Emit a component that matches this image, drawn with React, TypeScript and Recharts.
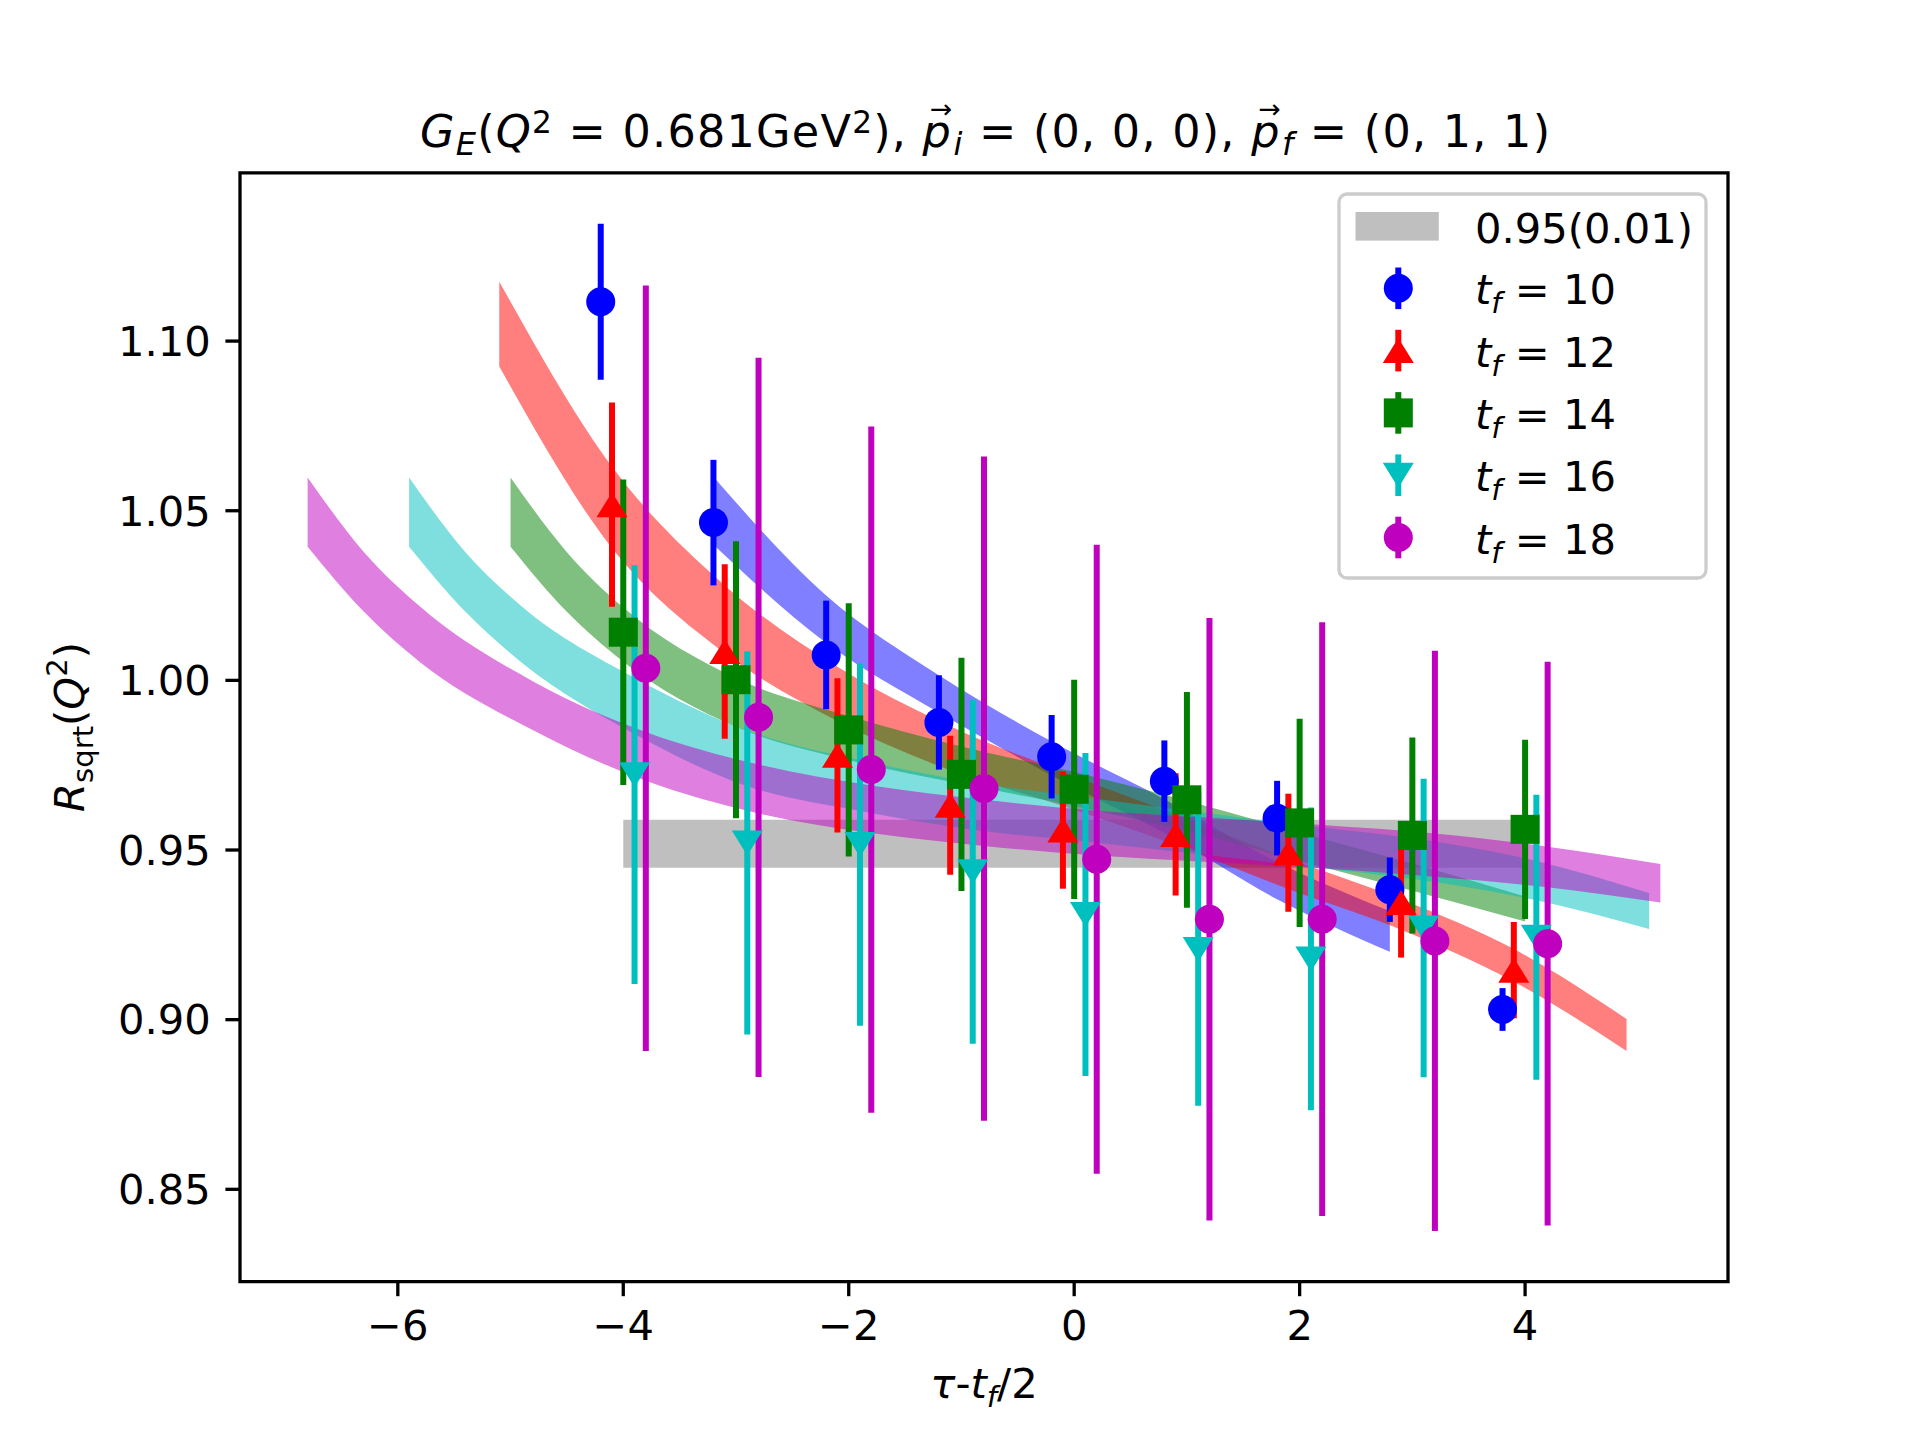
import React from 'react';
import { ComposedChart, XAxis, YAxis, Scatter, Area, ErrorBar, ReferenceArea } from 'recharts';

// ---- data points (x = tau - tf/2, with small horizontal offsets per series) ----
const tf10X = [-4.2, -3.2, -2.2, -1.2, -0.2, 0.8, 1.8, 2.8, 3.8];
const tf10Y = [1.1116, 1.0465, 1.0075, 0.9876, 0.9775, 0.9703, 0.9594, 0.9383, 0.903];
const tf10Err = [0.023, 0.0185, 0.016, 0.0139, 0.0123, 0.012, 0.011, 0.0095, 0.0063];

const tf12X = [-4.1, -3.1, -2.1, -1.1, -0.1, 0.9, 1.9, 2.9, 3.9];
const tf12Y = [1.0518, 1.0085, 0.9779, 0.9632, 0.9559, 0.9546, 0.9492, 0.9345, 0.9146];
const tf12Err = [0.0301, 0.0257, 0.0227, 0.0205, 0.0173, 0.018, 0.0174, 0.0162, 0.0142];

const tf14X = [-4, -3, -2, -1, 0, 1, 2, 3, 4];
const tf14Y = [1.0142, 1.0002, 0.9854, 0.9723, 0.9679, 0.9648, 0.958, 0.9543, 0.9561];
const tf14Err = [0.045, 0.0408, 0.0373, 0.0344, 0.0323, 0.0318, 0.0307, 0.0289, 0.0264];

const tf16X = [-3.9, -2.9, -1.9, -0.9, 0.1, 1.1, 2.1, 3.1, 4.1];
const tf16Y = [0.9722, 0.9521, 0.9516, 0.9436, 0.931, 0.9207, 0.9179, 0.927, 0.9243];
const tf16Err = [0.0617, 0.0565, 0.0534, 0.0507, 0.0476, 0.0461, 0.0446, 0.044, 0.042];

const tf18X = [-3.8, -2.8, -1.8, -0.8, 0.2, 1.2, 2.2, 3.2, 4.2];
const tf18Y = [1.0036, 0.9891, 0.9737, 0.9681, 0.9473, 0.9296, 0.9296, 0.9232, 0.9224];
const tf18Err = [0.1128, 0.106, 0.1011, 0.0979, 0.0927, 0.0888, 0.0875, 0.0855, 0.0831];

// ---- fit bands (lower / upper edges) ----
const band10X = [-3.2, -2.2, -1.2, -0.2, 0.8, 1.8, 2.8];
const band10Lo = [1.04, 1.011, 0.9905, 0.972, 0.955, 0.9355, 0.92];
const band10Hi = [1.06, 1.025, 1.0015, 0.982, 0.965, 0.9465, 0.932];

const band12X = [-5.1, -4.1, -3.1, -2.1, -1.1, -0.1, 0.9, 1.9, 2.9, 3.9, 4.9];
const band12Lo = [1.0925, 1.039, 1.008, 0.988, 0.9735, 0.963, 0.9515, 0.9385, 0.9265, 0.9112, 0.8908];
const band12Hi = [1.1175, 1.063, 1.028, 1.004, 0.9865, 0.973, 0.9605, 0.9475, 0.9355, 0.9208, 0.9002];

const band14X = [-5, -4.5, -4, -3, -2, -1, 0, 1, 2, 3, 4];
const band14Lo = [1.0394, 1.0202, 1.0055, 0.9863, 0.9765, 0.9695, 0.963, 0.9555, 0.9468, 0.938, 0.9289];
const band14Hi = [1.0598, 1.0378, 1.0215, 1.0007, 0.9895, 0.9805, 0.973, 0.9645, 0.9552, 0.946, 0.9363];

const band16X = [-5.9, -5.4, -4.9, -3.9, -2.9, -1.9, -0.9, 0.1, 1.1, 2.1, 3.1, 4.1, 5.1];
const band16Lo = [1.0394, 1.0202, 1.0052, 0.9842, 0.9688, 0.9615, 0.956, 0.9525, 0.9488, 0.945, 0.941, 0.9352, 0.9267];
const band16Hi = [1.0598, 1.0378, 1.0218, 1.0008, 0.9852, 0.9765, 0.97, 0.9655, 0.9612, 0.957, 0.953, 0.9468, 0.9373];

const band18X = [-6.8, -6.3, -5.8, -4.8, -3.8, -2.8, -1.8, -0.8, 0.2, 1.2, 2.2, 3.2, 4.2, 5.2];
const band18Lo = [1.0394, 1.0202, 1.0053, 0.9853, 0.9704, 0.9608, 0.955, 0.9512, 0.9484, 0.9465, 0.9446, 0.9421, 0.939, 0.9345];
const band18Hi = [1.0598, 1.0378, 1.0217, 0.9997, 0.9848, 0.9752, 0.969, 0.9648, 0.9616, 0.9595, 0.9574, 0.9549, 0.951, 0.9459];

const plateauX = [-4, 4];
const plateauLo = [0.9448, 0.9448];
const plateauHi = [0.9589, 0.9589];

const xTicks = [-6, -4, -2, 0, 2, 4];
const yTicks = [0.85, 0.9, 0.95, 1.0, 1.05, 1.1];
const xDomain = [-7.4, 5.8];
const yDomain = [0.8228, 1.1496];

const legendLabels = ['10', '12', '14', '16', '18'];

const FONT = 'DejaVu Sans';
const C = { blue: '#0000ff', red: '#ff0000', green: '#008000', cyan: '#00bfbf', magenta: '#bf00bf' };

const pts = (xs: number[], ys: number[], es: number[]) => xs.map((x, i) => ({ x, y: ys[i], err: es[i] }));
const band = (xs: number[], lo: number[], hi: number[]) => xs.map((x, i) => ({ x, lo: lo[i], hi: hi[i] }));

const R = 14.5;
const drawMarker = (kind: string, cx: number, cy: number, color: string) => {
  if (kind === 'circle') return <circle cx={cx} cy={cy} r={R} fill={color} />;
  if (kind === 'square') return <rect x={cx - 14.5} y={cy - 14.5} width={29} height={29} fill={color} />;
  if (kind === 'up')
    return <polygon points={`${cx},${cy - 12.5} ${cx - 15.5},${cy + 12.5} ${cx + 15.5},${cy + 12.5}`} fill={color} />;
  return <polygon points={`${cx},${cy + 12.5} ${cx - 15.5},${cy - 12.5} ${cx + 15.5},${cy - 12.5}`} fill={color} />;
};

const shapeFn = (kind: string, color: string) => (props: any) => {
  const { cx, cy } = props;
  if (cx == null || cy == null) return <g />;
  return drawMarker(kind, cx, cy, color);
};

type Part = { t: string; it?: boolean; scale?: number; shift?: number; dx?: number };
function MathText({ x, y, size, anchor, parts, transform, textLength }: { x: number; y: number; size: number; anchor: string; parts: Part[]; transform?: string; textLength?: number }) {
  let cur = 0;
  return (
    <text
      x={x}
      y={y}
      fontSize={size}
      textAnchor={anchor as any}
      fontFamily={FONT}
      transform={transform}
      fill="#000"
      style={{ whiteSpace: 'pre' }}
      {...(textLength ? { textLength, lengthAdjust: 'spacing' } : {})}
    >
      {parts.map((p, i) => {
        const s = p.shift || 0;
        const dy = s - cur;
        cur = s;
        return (
          <tspan key={i} dy={dy} dx={p.dx || 0} fontStyle={p.it ? 'italic' : 'normal'} fontSize={p.scale ? size * p.scale : size}>
            {p.t}
          </tspan>
        );
      })}
    </text>
  );
}

const series = [
  { key: 't10', data: pts(tf10X, tf10Y, tf10Err), color: C.blue, kind: 'circle' },
  { key: 't12', data: pts(tf12X, tf12Y, tf12Err), color: C.red, kind: 'up' },
  { key: 't14', data: pts(tf14X, tf14Y, tf14Err), color: C.green, kind: 'square' },
  { key: 't16', data: pts(tf16X, tf16Y, tf16Err), color: C.cyan, kind: 'down' },
  { key: 't18', data: pts(tf18X, tf18Y, tf18Err), color: C.magenta, kind: 'circle' },
];

const bands = [
  { key: 'b10', data: band(band10X, band10Lo, band10Hi), color: C.blue },
  { key: 'b12', data: band(band12X, band12Lo, band12Hi), color: C.red },
  { key: 'b14', data: band(band14X, band14Lo, band14Hi), color: C.green },
  { key: 'b16', data: band(band16X, band16Lo, band16Hi), color: C.cyan },
  { key: 'b18', data: band(band18X, band18Lo, band18Hi), color: C.magenta },
];

export default function App() {
  const S = 41.67;
  const arrowDx = -22.3;
  const title: Part[] = [
    { t: 'G', it: true },
    { t: 'E', it: true, scale: 0.72, shift: 8 },
    { t: '(' },
    { t: 'Q', it: true },
    { t: '2', scale: 0.7, shift: -14 },
    { t: '\u00a0=\u00a00.681GeV' },
    { t: '2', scale: 0.7, shift: -14 },
    { t: '),\u00a0' },
    { t: 'p', it: true },
    { t: '\u2192', scale: 0.6, shift: -29, dx: arrowDx },
    { t: 'i', it: true, scale: 0.72, shift: 8, dx: 0 },
    { t: '\u00a0=\u00a0(0,\u00a00,\u00a00),\u00a0' },
    { t: 'p', it: true },
    { t: '\u2192', scale: 0.6, shift: -29, dx: arrowDx },
    { t: 'f', it: true, scale: 0.72, shift: 8, dx: 0 },
    { t: '\u00a0=\u00a0(0,\u00a01,\u00a01)' },
  ];
  const kinds = ['circle', 'up', 'square', 'down', 'circle'];
  const colors = [C.blue, C.red, C.green, C.cyan, C.magenta];
  const rowY = (i: number) => 226 + 62.3 * i;

  return (
    <div style={{ position: 'absolute', left: 0, top: 0, width: 1920, height: 1440, background: '#fff' }}>
      <ComposedChart width={1920} height={1440} margin={{ top: 172.8, right: 192, bottom: 78.4, left: 120 }}>
        <XAxis
          dataKey="x"
          type="number"
          domain={xDomain}
          allowDataOverflow
          ticks={xTicks}
          tickFormatter={(v: number) => (v < 0 ? '\u2212' + Math.abs(v) : String(v))}
          height={80}
          axisLine={false}
          tickSize={14.6}
          tickMargin={14.6}
          tickLine={{ stroke: '#000', strokeWidth: 3.3 }}
          tick={{ fontSize: S, fill: '#000', fontFamily: FONT }}
        />
        <YAxis
          type="number"
          domain={yDomain}
          allowDataOverflow
          ticks={yTicks}
          tickFormatter={(v: number) => v.toFixed(2)}
          width={120}
          axisLine={false}
          tickSize={14.6}
          tickMargin={14.6}
          tickLine={{ stroke: '#000', strokeWidth: 3.3 }}
          tick={{ fontSize: S, fill: '#000', fontFamily: FONT }}
        />
        <Area
          data={band(plateauX, plateauLo, plateauHi)}
          dataKey={(d: any) => [d.lo, d.hi]}
          type="linear"
          stroke="none"
          fill="#808080"
          fillOpacity={0.5}
          isAnimationActive={false}
          dot={false}
          activeDot={false}
        />
        {bands.map((b) => (
          <Area
            key={b.key}
            data={b.data}
            dataKey={(d: any) => [d.lo, d.hi]}
            type="monotone"
            stroke="none"
            fill={b.color}
            fillOpacity={0.5}
            isAnimationActive={false}
            dot={false}
            activeDot={false}
          />
        ))}
        {series.map((s) => (
          <Scatter key={s.key} data={s.data} dataKey="y" fill={s.color} shape={shapeFn(s.kind, s.color)} isAnimationActive={false}>
            <ErrorBar dataKey="err" direction="y" width={0} stroke={s.color} strokeWidth={6} isAnimationActive={false} />
          </Scatter>
        ))}
        <ReferenceArea x1={xDomain[0]} x2={xDomain[1]} y1={yDomain[0]} y2={yDomain[1]} fill="none" fillOpacity={0} stroke="#000" strokeWidth={3.3} ifOverflow="visible" />
      </ComposedChart>
      <svg width={1920} height={1440} style={{ position: 'absolute', left: 0, top: 0, pointerEvents: 'none' }}>
        <MathText x={985} y={147} size={44.5} anchor="middle" parts={title} textLength={1130} />
        <MathText
          x={984}
          y={1398}
          size={S}
          anchor="middle"
          parts={[
            { t: '\u03c4', it: true },
            { t: '-' },
            { t: 't', it: true },
            { t: 'f', it: true, scale: 0.7, shift: 9 },
            { t: '/2' },
          ]}
        />
        <MathText
          x={84}
          y={727}
          size={S}
          anchor="middle"
          transform="rotate(-90 84 727)"
          parts={[
            { t: 'R', it: true },
            { t: 'sqrt', scale: 0.7, shift: 9 },
            { t: '(' },
            { t: 'Q', it: true },
            { t: '2', scale: 0.7, shift: -17 },
            { t: ')' },
          ]}
        />
        <rect x={1339} y={194} width={367} height={384} rx={8} fill="#fff" fillOpacity={0.8} stroke="#cccccc" strokeWidth={3.3} />
        <rect x={1355.5} y={212} width={83.3} height={28.6} fill="#808080" fillOpacity={0.5} />
        <text x={1475} y={243} fontSize={S} fontFamily={FONT} fill="#000">0.95(0.01)</text>
        {legendLabels.map((lab, i) => {
          const cy = rowY(i + 1);
          return (
            <g key={lab}>
              <line x1={1398.3} x2={1398.3} y1={cy - 20.8} y2={cy + 20.8} stroke={colors[i]} strokeWidth={6} />
              {drawMarker(kinds[i], 1398.3, cy, colors[i])}
              <MathText
                x={1475}
                y={cy + 16}
                size={S}
                anchor="start"
                parts={[{ t: 't', it: true }, { t: 'f', it: true, scale: 0.7, shift: 9 }, { t: '\u00a0=\u00a0' + lab }]}
              />
            </g>
          );
        })}
      </svg>
    </div>
  );
}
